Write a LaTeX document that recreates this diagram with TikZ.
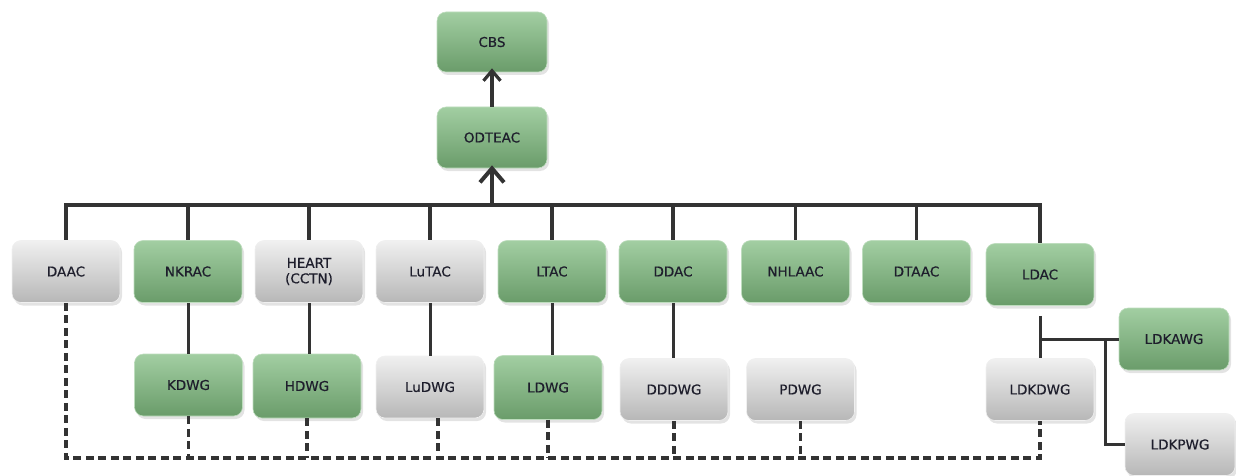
\documentclass[tikz,border=0pt]{standalone}
\usepackage{fontspec}
\newfontfamily\boxfont[FakeBold=0.5]{DejaVu Sans}
\usetikzlibrary{arrows.meta,shadows}
\definecolor{grtop}{HTML}{A2CEA2}
\definecolor{grbot}{HTML}{6A9C6A}
\definecolor{gytop}{HTML}{F0F0F0}
\definecolor{gybot}{HTML}{B7B7B7}
\definecolor{txt}{HTML}{1E1E2C}
\definecolor{wire}{HTML}{333333}
\tikzset{
  unit/.style={rounded corners=9pt, minimum width=108pt, minimum height=62pt,
    align=center, font=\boxfont\fontsize{13.5}{15.5}\selectfont, text=txt,
    drop shadow={shadow xshift=2pt, shadow yshift=-3pt, opacity=0.22}},
  greenbox/.style={unit, top color=grtop, bottom color=grbot, draw=grtop!70!white, line width=0.6pt},
  graybox/.style={unit, top color=gytop, bottom color=gybot, draw=gytop, line width=0.6pt},
  bus/.style={wire, line width=4pt},
  drop/.style={wire, line width=3.2pt},
  link/.style={wire, line width=3pt},
  dlink/.style={wire, line width=3.2pt, dash pattern=on 8pt off 4.5pt},
  uparrow/.style={wire, line width=4pt, -{Straight Barb[length=14pt, width=24pt, line width=4pt]}},
  smallarrow/.style={wire, line width=3.2pt, -{Straight Barb[length=10pt, width=17pt, line width=3.2pt]}}
}
\begin{document}
\begin{tikzpicture}[x=1pt, y=-1pt]
\useasboundingbox (0,0) rectangle (1236,476);

% top of the hierarchy
\node[greenbox, minimum width=110pt, minimum height=60pt] (CBS) at (492,42) {CBS};
\node[greenbox, minimum width=110pt, minimum height=61pt] (ODTEAC) at (492,137.5) {ODTEAC};

% committees
\node[graybox]  (DAAC)   at (66,271.5)   {DAAC};
\node[greenbox] (NKRAC)  at (188,271.5)  {NKRAC};
\node[graybox]  (HEART)  at (309,271.5)  {HEART\\(CCTN)};
\node[graybox]  (LuTAC)  at (430,271.5)  {LuTAC};
\node[greenbox] (LTAC)   at (552,271.5)  {LTAC};
\node[greenbox] (DDAC)   at (673,271.5)  {DDAC};
\node[greenbox] (NHLAAC) at (795.5,271.5){NHLAAC};
\node[greenbox] (DTAAC)  at (916.5,271.5){DTAAC};
\node[greenbox] (LDAC)   at (1040,274.5) {LDAC};

% working groups
\node[greenbox, minimum height=62pt] (KDWG)   at (188.5,385) {KDWG};
\node[greenbox, minimum height=64pt] (HDWG)   at (307,386)   {HDWG};
\node[graybox]  (LuDWG)  at (430,387)    {LuDWG};
\node[greenbox, minimum height=64pt] (LDWG)   at (548,387.5) {LDWG};
\node[graybox]  (DDDWG)  at (674,389.5)  {DDDWG};
\node[graybox]  (PDWG)   at (800.5,389.5){PDWG};
\node[graybox]  (LDKDWG) at (1040,389.5) {LDKDWG};
\node[greenbox, minimum width=110pt] (LDKAWG) at (1174,339) {LDKAWG};
\node[graybox, minimum width=110pt] (LDKPWG) at (1180,444.5) {LDKPWG};

% solid reporting bus
\coordinate (busL) at (DAAC.north |- 0,205);
\coordinate (busR) at (LDAC.north |- 0,205);
\coordinate (busM) at (ODTEAC.south |- 0,205);
\draw[bus] ([xshift=-1.6pt]busL) -- ([xshift=1.6pt]busR);
\foreach \n in {DAAC,NKRAC,HEART,LuTAC,LTAC,DDAC,NHLAAC,DTAAC,LDAC}
  \draw[drop] (\n.north |- busL) -- (\n.north);
\draw[uparrow] (busM) -- ([yshift=3pt]ODTEAC.south);
\draw[smallarrow] (ODTEAC.north) -- ([yshift=4pt]CBS.south);

% committee to working group links
\foreach \a/\b in {NKRAC/KDWG,HEART/HDWG,LuTAC/LuDWG,LTAC/LDWG,DDAC/DDDWG}
  \draw[link] (\a.south) -- (\a.south |- \b.north);
\coordinate (ldTop) at ([yshift=-10pt]LDAC.south);
\coordinate (ldJoin) at (LDAC.south |- LDKAWG.west);
\coordinate (ldFork) at (1105,0 |- LDKAWG.west);
\draw[link] (ldTop) -- (LDKDWG.north);
\draw[link] (ldJoin) -- (LDKAWG.west);
\draw[link] (ldFork) -- (ldFork |- LDKPWG.west) -- (LDKPWG.west);

% dashed coordination line
\coordinate (dL) at (DAAC.south |- 0,458);
\coordinate (dR) at (LDKDWG.south |- 0,458);
\draw[dlink] (DAAC.south) -- (dL) -- (dR) -- (LDKDWG.south);
\foreach \n in {KDWG,HDWG,LDWG,DDDWG,PDWG}
  \draw[dlink] (\n.south) -- (\n.south |- dL);
\draw[dlink] ([xshift=8pt]LuDWG.south) -- ([xshift=8pt]LuDWG.south |- dL);
\end{tikzpicture}
\end{document}
